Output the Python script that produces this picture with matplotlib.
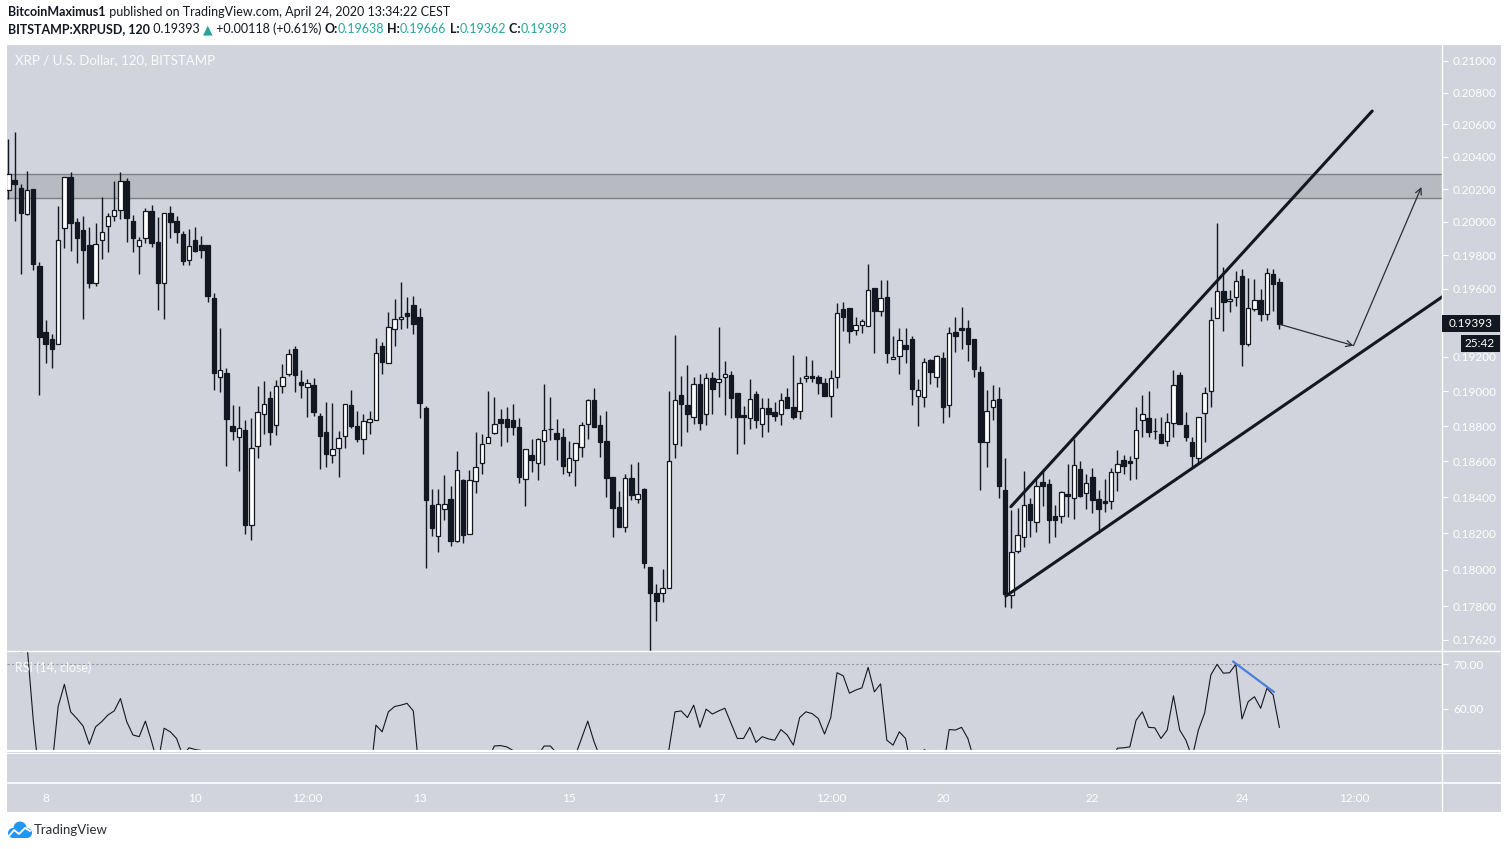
import matplotlib
matplotlib.use("Agg")
import matplotlib.pyplot as plt
import matplotlib.transforms as mtransforms
from matplotlib.patches import Rectangle, Circle
from matplotlib.lines import Line2D
from matplotlib.ticker import FixedLocator, NullLocator

W, H = 1509, 849
FONT = ['Lato', 'DejaVu Sans']
plt.rcParams['font.family'] = FONT

# 2h candles, XRP/USD (Bitstamp), Apr 7 12:00 -> Apr 24
opens = [0.20193, 0.20256, 0.20205, 0.20050, 0.20199, 0.19735, 0.19344, 0.19303, 0.19272, 0.19962,
         0.20273, 0.19998, 0.19950, 0.19859, 0.19635, 0.19889, 0.19974, 0.20035, 0.20071, 0.20250,
         0.20004, 0.19853, 0.19905, 0.20065, 0.19877, 0.19635, 0.20053, 0.20004, 0.19926, 0.19773,
         0.19889, 0.19859, 0.19859, 0.19543, 0.19084, 0.19103, 0.18799, 0.18740, 0.18776, 0.18247,
         0.18689, 0.18871, 0.18959, 0.18805, 0.19032, 0.19101, 0.19244, 0.19053, 0.19026, 0.19034,
         0.18858, 0.18767, 0.18635, 0.18674, 0.18746, 0.18921, 0.18801, 0.18729, 0.18825, 0.18837,
         0.19260, 0.19165, 0.19360, 0.19418, 0.19456, 0.19503, 0.19432, 0.18902, 0.18354, 0.18186,
         0.18332, 0.18387, 0.18158, 0.18496, 0.18197, 0.18488, 0.18589, 0.18703, 0.18763, 0.18839,
         0.18839, 0.18833, 0.18793, 0.18503, 0.18635, 0.18593, 0.18714, 0.18782, 0.18759, 0.18737,
         0.18542, 0.18610, 0.18683, 0.18810, 0.18948, 0.18805, 0.18714, 0.18511, 0.18343, 0.18235,
         0.18505, 0.18387, 0.18443, 0.18014, 0.17871, 0.17871, 0.17898, 0.18697, 0.18976, 0.18919,
         0.18854, 0.19040, 0.18868, 0.19075, 0.19051, 0.19080, 0.19092, 0.18988, 0.18864, 0.18845,
         0.18982, 0.18810, 0.18905, 0.18879, 0.18868, 0.18967, 0.18908, 0.18885, 0.19075, 0.19086,
         0.19080, 0.19046, 0.18974, 0.19080, 0.19478, 0.19483, 0.19354, 0.19383, 0.19377, 0.19604,
         0.19466, 0.19550, 0.19184, 0.19202, 0.19266, 0.19303, 0.18971, 0.18965, 0.19179, 0.19080,
         0.19192, 0.18919, 0.19344, 0.19367, 0.19367, 0.19303, 0.19111, 0.18712, 0.18908, 0.18955,
         0.18439, 0.17862, 0.18100, 0.18178, 0.18360, 0.18260, 0.18483, 0.18471, 0.18295, 0.18293,
         0.18415, 0.18393, 0.18557, 0.18421, 0.18512, 0.18387, 0.18376, 0.18376, 0.18539, 0.18606,
         0.18601, 0.18618, 0.18833, 0.18845, 0.18771, 0.18754, 0.18714, 0.18816, 0.19094, 0.18805,
         0.18708, 0.18618, 0.18873, 0.18999, 0.19424, 0.19584, 0.19525, 0.19549, 0.19673, 0.19275,
         0.19478, 0.19531, 0.19448, 0.19685, 0.19638]
highs = [0.20509, 0.20551, 0.20230, 0.20311, 0.20199, 0.19757, 0.19414, 0.19332, 0.20097, 0.20273,
         0.20303, 0.20022, 0.20035, 0.19968, 0.19992, 0.20152, 0.20057, 0.20250, 0.20305, 0.20266,
         0.20041, 0.19911, 0.20083, 0.20102, 0.20032, 0.20053, 0.20095, 0.20035, 0.19946, 0.19956,
         0.19968, 0.19914, 0.19859, 0.19572, 0.19366, 0.19132, 0.18919, 0.18915, 0.18835, 0.18845,
         0.19030, 0.19059, 0.19001, 0.19065, 0.19157, 0.19244, 0.19262, 0.19123, 0.19071, 0.19076,
         0.18873, 0.18936, 0.18931, 0.18772, 0.18925, 0.19007, 0.18887, 0.18869, 0.18887, 0.19309,
         0.19285, 0.19462, 0.19539, 0.19639, 0.19550, 0.19556, 0.19485, 0.18915, 0.18445, 0.18445,
         0.18524, 0.18462, 0.18659, 0.18501, 0.18552, 0.18767, 0.18755, 0.19001, 0.18967, 0.18898,
         0.18909, 0.18927, 0.18846, 0.18669, 0.18727, 0.18731, 0.19042, 0.18967, 0.18841, 0.18789,
         0.18716, 0.18703, 0.18823, 0.18955, 0.19018, 0.18864, 0.18887, 0.18511, 0.18434, 0.18528,
         0.18584, 0.18597, 0.18449, 0.18014, 0.17920, 0.18003, 0.19001, 0.19326, 0.19088, 0.19150,
         0.19082, 0.19098, 0.19103, 0.19111, 0.19373, 0.19173, 0.19117, 0.18988, 0.18913, 0.19069,
         0.19001, 0.18959, 0.18959, 0.18938, 0.18988, 0.19018, 0.19209, 0.19082, 0.19204, 0.19180,
         0.19094, 0.19076, 0.19123, 0.19515, 0.19521, 0.19483, 0.19432, 0.19420, 0.19747, 0.19604,
         0.19651, 0.19651, 0.19321, 0.19366, 0.19366, 0.19321, 0.19071, 0.19192, 0.19184, 0.19208,
         0.19227, 0.19371, 0.19430, 0.19489, 0.19414, 0.19303, 0.19146, 0.19007, 0.19036, 0.19024,
         0.18618, 0.18328, 0.18337, 0.18546, 0.18393, 0.18505, 0.18552, 0.18501, 0.18356, 0.18432,
         0.18585, 0.18727, 0.18602, 0.18528, 0.18563, 0.18439, 0.18501, 0.18561, 0.18663, 0.18635,
         0.18629, 0.18909, 0.18978, 0.19001, 0.18845, 0.18850, 0.18873, 0.19121, 0.19109, 0.18879,
         0.18737, 0.18850, 0.19023, 0.19491, 0.19992, 0.19727, 0.19592, 0.19705, 0.19715, 0.19661,
         0.19656, 0.19596, 0.19721, 0.19717, 0.19666]
lows = [0.20142, 0.20008, 0.19687, 0.20043, 0.19713, 0.18978, 0.19165, 0.19136, 0.19272, 0.19845,
        0.19825, 0.19753, 0.19420, 0.19605, 0.19617, 0.19779, 0.19821, 0.20008, 0.20020, 0.19881,
        0.19821, 0.19689, 0.19875, 0.19851, 0.19475, 0.19420, 0.19905, 0.19875, 0.19743, 0.19743,
        0.19819, 0.19784, 0.19523, 0.19009, 0.18997, 0.18576, 0.18721, 0.18548, 0.18195, 0.18162,
        0.18619, 0.18757, 0.18693, 0.18751, 0.18991, 0.19088, 0.18997, 0.18963, 0.18854, 0.18860,
        0.18559, 0.18570, 0.18593, 0.18514, 0.18678, 0.18791, 0.18712, 0.18644, 0.18757, 0.18837,
        0.19101, 0.19165, 0.19264, 0.19361, 0.19369, 0.19334, 0.18848, 0.18010, 0.18184, 0.18098,
        0.18274, 0.18131, 0.18153, 0.18147, 0.18197, 0.18424, 0.18531, 0.18703, 0.18757, 0.18689,
        0.18712, 0.18751, 0.18480, 0.18352, 0.18542, 0.18497, 0.18582, 0.18723, 0.18610, 0.18531,
        0.18520, 0.18464, 0.18627, 0.18729, 0.18797, 0.18627, 0.18402, 0.18180, 0.18235, 0.18208,
        0.18385, 0.18368, 0.18010, 0.17560, 0.17723, 0.17825, 0.17898, 0.18621, 0.18689, 0.18768,
        0.18814, 0.18780, 0.18808, 0.18871, 0.18968, 0.18865, 0.18848, 0.18644, 0.18700, 0.18785,
        0.18791, 0.18737, 0.18768, 0.18831, 0.18808, 0.18904, 0.18842, 0.18842, 0.19055, 0.19055,
        0.18986, 0.18974, 0.18854, 0.19020, 0.19352, 0.19281, 0.19328, 0.19340, 0.19377, 0.19223,
        0.19440, 0.19165, 0.19184, 0.19101, 0.19165, 0.18923, 0.18802, 0.18908, 0.19040, 0.19026,
        0.18819, 0.18854, 0.19229, 0.19246, 0.19176, 0.19084, 0.18441, 0.18570, 0.18837, 0.18396,
        0.17798, 0.17793, 0.18092, 0.18125, 0.18177, 0.18208, 0.18350, 0.18144, 0.18180, 0.18258,
        0.18288, 0.18280, 0.18402, 0.18332, 0.18313, 0.18199, 0.18319, 0.18335, 0.18435, 0.18529,
        0.18497, 0.18503, 0.18740, 0.18737, 0.18727, 0.18706, 0.18689, 0.18737, 0.18814, 0.18717,
        0.18561, 0.18584, 0.18712, 0.18911, 0.19424, 0.19352, 0.19463, 0.19497, 0.19147, 0.19264,
        0.19466, 0.19407, 0.19416, 0.19466, 0.19362]
closes = [0.20291, 0.20233, 0.20057, 0.20193, 0.19749, 0.19316, 0.19275, 0.19246, 0.19889, 0.20273,
          0.19996, 0.19905, 0.19833, 0.19635, 0.19865, 0.19938, 0.20035, 0.20071, 0.20248, 0.20026,
          0.19905, 0.19889, 0.20065, 0.19875, 0.19635, 0.20053, 0.20002, 0.19941, 0.19767, 0.19853,
          0.19827, 0.19833, 0.19558, 0.19107, 0.19121, 0.18839, 0.18774, 0.18788, 0.18247, 0.18674,
          0.18879, 0.18925, 0.18767, 0.19028, 0.19080, 0.19213, 0.19095, 0.19038, 0.19046, 0.18883,
          0.18746, 0.18644, 0.18669, 0.18731, 0.18925, 0.18802, 0.18729, 0.18828, 0.18839, 0.19219,
          0.19171, 0.19371, 0.19418, 0.19430, 0.19440, 0.19392, 0.18934, 0.18385, 0.18230, 0.18360,
          0.18360, 0.18158, 0.18550, 0.18191, 0.18494, 0.18567, 0.18697, 0.18737, 0.18810, 0.18819,
          0.18797, 0.18797, 0.18514, 0.18669, 0.18610, 0.18725, 0.18776, 0.18784, 0.18729, 0.18576,
          0.18618, 0.18703, 0.18805, 0.18948, 0.18797, 0.18712, 0.18508, 0.18341, 0.18235, 0.18505,
          0.18413, 0.18415, 0.18037, 0.17874, 0.17831, 0.17898, 0.18601, 0.18948, 0.18928, 0.18868,
          0.19040, 0.18819, 0.19075, 0.19014, 0.19069, 0.19098, 0.18963, 0.18854, 0.18854, 0.18954,
          0.18837, 0.18905, 0.18871, 0.18860, 0.18948, 0.18906, 0.18854, 0.19046, 0.19086, 0.19075,
          0.19049, 0.18974, 0.19075, 0.19454, 0.19434, 0.19352, 0.19383, 0.19408, 0.19590, 0.19469,
          0.19543, 0.19223, 0.19198, 0.19297, 0.19246, 0.19014, 0.19005, 0.19167, 0.19113, 0.19202,
          0.18911, 0.19336, 0.19322, 0.19354, 0.19275, 0.19130, 0.18712, 0.18885, 0.18948, 0.18464,
          0.17866, 0.18094, 0.18188, 0.18354, 0.18271, 0.18460, 0.18464, 0.18274, 0.18271, 0.18426,
          0.18407, 0.18578, 0.18407, 0.18477, 0.18385, 0.18336, 0.18368, 0.18539, 0.18584, 0.18576,
          0.18593, 0.18776, 0.18868, 0.18768, 0.18773, 0.18706, 0.18822, 0.19034, 0.18814, 0.18737,
          0.18632, 0.18850, 0.18988, 0.19412, 0.19584, 0.19523, 0.19537, 0.19644, 0.19275, 0.19483,
          0.19531, 0.19448, 0.19691, 0.19626, 0.19393]
rsi = [76, 74, 72.8, 74.5, 57.5, 44, 42, 46.9, 60.5, 65.5,
       59.3, 57.8, 56.1, 52.0, 55.9, 57.1, 58.6, 59.5, 62.3, 57.1,
       54.1, 53.7, 57.2, 52.6, 47.5, 55.6, 54.8, 53.3, 49.5, 51.2,
       50.8, 50.6, 44, 36, 37, 32, 31, 31.5, 27, 37,
       42, 44, 41, 45, 46.5, 49, 45, 44.5, 44.8, 42,
       39, 37, 38, 39.5, 44.5, 42.5, 41, 43, 43.5, 56.3,
       54.8, 59.3, 60.5, 60.8, 61.2, 59.5, 45, 34, 32, 36,
       36, 33, 40, 35, 41, 43, 46, 48.5, 51.6, 51.7,
       51.4, 50.6, 44, 48, 47, 49.5, 51.6, 51.6, 50, 46,
       47.5, 49.5, 53.3, 57.2, 52.6, 49, 43, 38, 36, 42,
       40, 40.5, 32, 26, 25, 27, 50.6, 59.3, 59.5, 58.0,
       60.8, 55.8, 59.9, 58.8, 59.5, 60.1, 56.7, 53.3, 53.3, 55.8,
       52.4, 53.7, 53.2, 52.9, 55.3, 54.1, 51.8, 58.0, 59.3, 58.9,
       57.8, 54.3, 58.0, 68.1, 67.4, 63.5, 64.2, 64.7, 69.3, 63.8,
       65.6, 52.9, 51.8, 54.8, 53.3, 46, 48, 50.8, 49.8, 50.6,
       46, 55.3, 55.2, 55.8, 53.3, 48.5, 40, 45, 46, 38,
       30, 37, 39, 43, 41.5, 45, 45, 41, 41, 45,
       45, 48.5, 45, 47, 44.5, 43.5, 43.5, 48, 51.1, 51.2,
       51.4, 57.4, 59.3, 55.8, 55.7, 53.3, 55.2, 62.9, 55.2, 52.9,
       49, 55.2, 59.0, 67.6, 70.0, 68.0, 68.1, 70.0, 57.7, 61.6,
       62.7, 60.1, 64.6, 63.1, 55.8]

tick_pos = [6, 30, 48, 66, 90, 114, 132, 150, 174, 198, 216]
tick_labels = ['8', '10', '12:00', '13', '15', '17', '12:00', '20', '22', '24', '12:00']
# 0.19400 sits under the last-price tag, so it is left out
price_ticks = [0.210, 0.208, 0.206, 0.204, 0.202, 0.200, 0.198, 0.196, 0.192,
               0.190, 0.188, 0.186, 0.184, 0.182, 0.180, 0.178, 0.1762]
rsi_ticks = [70, 60]

# drawings
zone = (0.20144, 0.20293)
upper_line = ([160.9, 218.9], [0.18346, 0.20684])
lower_line = ([160.1, 231.0], [0.17856, 0.19573])
arrow_pts = [(204.06, 0.19389), (215.9, 0.19264), (226.8, 0.20213)]
rsi_div = ([196.6, 203.1], [70.6, 63.8])

BG = '#d1d4dc'
DARK = '#131722'
TEAL = '#26a69a'

fig = plt.figure(figsize=(W / 100, H / 100), dpi=100)
fig.patch.set_facecolor('white')


def px_axes(l, t, r, b):
    a = fig.add_axes([l / W, 1 - b / H, (r - l) / W, (b - t) / H])
    a.set_facecolor('none')
    for s in a.spines.values():
        s.set_visible(False)
    return a


def hline(y, x0, x1, lw, color='white'):
    fig.add_artist(Line2D([x0 / W, x1 / W], [1 - y / H, 1 - y / H],
                          transform=fig.transFigure, color=color, lw=lw, zorder=1))


fig.patches.append(Rectangle((7 / W, 1 - 812 / H), (1501 - 7) / W, (812 - 45) / H,
                             transform=fig.transFigure, facecolor=BG, edgecolor='none', zorder=-1))

x = list(range(len(closes)))
xlim = (-0.21, 230.1)

# ---- main price panel
ax = px_axes(7, 45, 1442, 651)
ax.set_yscale('log')
ax.set_xlim(*xlim)
ax.set_ylim(0.17561, 0.21102)

ax.axhspan(zone[0], zone[1], facecolor='#b8bac1', edgecolor='none', zorder=1)
ax.axhline(zone[0], color='#7d8089', lw=1.0, zorder=1)
ax.axhline(zone[1], color='#7d8089', lw=1.0, zorder=1)

ax.vlines(x, lows, highs, color=DARK, lw=1.0, zorder=2)
bottoms = [min(o, c) for o, c in zip(opens, closes)]
heights = [abs(c - o) for o, c in zip(opens, closes)]
fills = ['white' if c >= o else DARK for o, c in zip(opens, closes)]
ax.bar(x, heights, bottom=bottoms, width=0.72, color=fills, edgecolor=DARK,
       linewidth=0.9, zorder=3)

ax.plot(*upper_line, color=DARK, lw=2.2, zorder=4, solid_capstyle='round')
ax.plot(*lower_line, color=DARK, lw=2.2, zorder=4, solid_capstyle='round')
for p0, p1 in zip(arrow_pts[:-1], arrow_pts[1:]):
    ax.annotate('', xy=p1, xytext=p0, zorder=4,
                arrowprops=dict(arrowstyle='->', color='#2a2e39', lw=0.9,
                                shrinkA=0, shrinkB=0, mutation_scale=11))

ax.yaxis.tick_right()
ax.yaxis.set_major_locator(FixedLocator(price_ticks))
ax.yaxis.set_minor_locator(NullLocator())
ax.set_yticklabels([f'{v:.5f}' for v in price_ticks])
ax.tick_params(axis='y', colors='white', labelcolor='white', length=4, width=0.8,
               labelsize=8.5, pad=4)
ax.set_xticks([])
ax.text(8 / 1435, 1 - 15 / 606, 'XRP / U.S. Dollar, 120, BITSTAMP', transform=ax.transAxes,
        color='white', fontsize=9.5, va='center', ha='left', alpha=0.9)

# ---- RSI panel
ar = px_axes(7, 651, 1442, 750)
ar.set_xlim(*xlim)
ar.set_ylim(50.7, 73.0)
ar.axhline(70, color='#9598a1', lw=0.8, ls=(0, (2, 2)))
ar.plot(x, rsi, color=DARK, lw=0.8)
ar.plot(*rsi_div, color='#4a7fe0', lw=1.6)
ar.yaxis.tick_right()
ar.set_yticks(rsi_ticks)
ar.set_yticklabels([f'{v:.2f}' for v in rsi_ticks])
ar.tick_params(axis='y', colors='white', labelcolor='white', length=4, width=0.8,
               labelsize=8.5, pad=4)
ar.set_xticks([])
ar.text(8 / 1435, 1 - 17 / 99, 'RSI (14, close)', transform=ar.transAxes,
        color='white', fontsize=9, va='center', ha='left', alpha=0.9)

# ---- empty pane + time axis labels
ae = px_axes(7, 753, 1442, 783)
ae.set_xlim(*xlim)
ae.set_xticks([])
ae.set_yticks([])
tr = mtransforms.blended_transform_factory(ae.transData, fig.transFigure)
for p, lab in zip(tick_pos, tick_labels):
    ae.text(p, 1 - 798 / H, lab, transform=tr, color='white', fontsize=8.5,
            ha='center', va='center', clip_on=False)

# separators
hline(651, 7, 1501, 1.0)
hline(750.5, 7, 1501, 1.6)
hline(753, 7, 1501, 0.8)
hline(783, 7, 1501, 1.2)
fig.add_artist(Line2D([1442 / W, 1442 / W], [1 - 812 / H, 1 - 45 / H],
                      transform=fig.transFigure, color='white', lw=1.0, zorder=1))

# last price tag
fig.canvas.draw()
ytag = ax.transData.transform((0, closes[-1]))[1]
fig.patches.append(Rectangle((1442 / W, (ytag - 8.5) / H), 58 / W, 17 / H,
                             transform=fig.transFigure, facecolor=DARK, edgecolor='none', zorder=5))
fig.text(1471 / W, ytag / H, f'{closes[-1]:.5f}', color='white', fontsize=8.5,
         ha='center', va='center', zorder=6)
fig.patches.append(Rectangle((1461 / W, (ytag - 28) / H), 39 / W, 17 / H,
                             transform=fig.transFigure, facecolor=DARK, edgecolor='none', zorder=5))
fig.text(1480 / W, (ytag - 19.5) / H, '25:42', color='white', fontsize=8.5,
         ha='center', va='center', zorder=6)

# header
renderer = fig.canvas.get_renderer()


def chain(x0, y, parts, size=9):
    xx = x0
    for s, col, wt in parts:
        t = fig.text(xx / W, 1 - y / H, s, color=col, fontweight=wt, fontsize=size,
                     ha='left', va='center')
        xx = t.get_window_extent(renderer).x1


chain(8, 12, [('BitcoinMaximus1', DARK, 'bold'),
              (' published on TradingView.com, April 24, 2020 13:34:22 CEST', DARK, 'normal')])
chain(8, 29, [('BITSTAMP:XRPUSD, 120', DARK, 'bold'), (' 0.19393 ', DARK, 'normal'),
              ('▲', TEAL, 'normal'), (' +0.00118 (+0.61%) ', DARK, 'normal'),
              ('O:', DARK, 'bold'), ('0.19638', TEAL, 'normal'),
              (' H:', DARK, 'bold'), ('0.19666', TEAL, 'normal'),
              (' L:', DARK, 'bold'), ('0.19362', TEAL, 'normal'),
              (' C:', DARK, 'bold'), ('0.19393', TEAL, 'normal')])

# footer logo: small blue cloud with a white zigzag
px = mtransforms.IdentityTransform()
for cx, cy, r in [(13, 833, 5), (20, 828, 6.5), (27, 833, 5)]:
    fig.patches.append(Circle((cx, H - cy), r, transform=px, facecolor='#2196f3',
                              edgecolor='none', zorder=5))
fig.patches.append(Rectangle((13, H - 838), 14, 5, transform=px, facecolor='#2196f3',
                             edgecolor='none', zorder=5))
fig.add_artist(Line2D([9, 14, 19, 25, 30], [H - 836, H - 830, H - 834, H - 828, H - 831],
                      transform=px, color='white', lw=1.3, zorder=6))
fig.text(34 / W, 1 - 830 / H, 'TradingView', color='#2a2e39', fontsize=9.5,
         ha='left', va='center')

fig.savefig('out.png', dpi=100)
